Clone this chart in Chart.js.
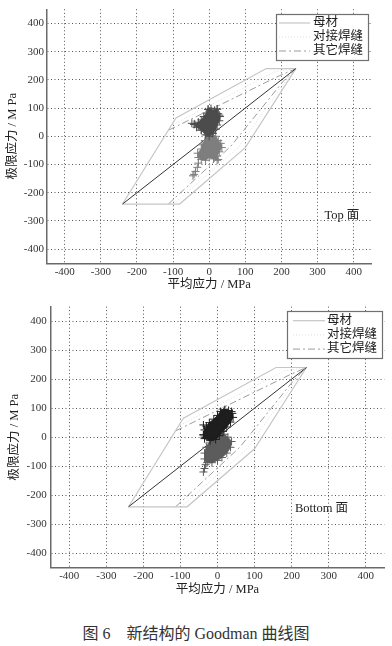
<!DOCTYPE html>
<html>
<head>
<meta charset="utf-8">
<script src="https://cdn.jsdelivr.net/npm/chart.js@4.4.0/dist/chart.umd.min.js"></script>
<style>
  html, body { margin: 0; padding: 0; background: #fff; }
  #page { position: relative; width: 392px; height: 646px; overflow: hidden; }
  .box { position: absolute; left: 0; width: 392px; }
  #top { top: 0; height: 296px; }
  #bottom { top: 296px; height: 314px; }
  #caption {
    position: absolute; top: 620px; left: 0; width: 392px; text-align: center;
    font: 16px "Liberation Serif", "Noto Sans CJK SC", serif; color: #333;
  }
</style>
</head>
<body>
<div id="page">
  <div class="box" id="top"><canvas id="topChart"></canvas></div>
  <div class="box" id="bottom"><canvas id="bottomChart"></canvas></div>
  <div id="caption">图 6　新结构的 Goodman 曲线图</div>
</div>
<script>
// axis ticks (MPa)
const tickValues = [-400, -300, -200, -100, 0, 100, 200, 300, 400];
const axisMin = -450;
const axisMax = 450;

// legend names
const legendLabels = ['母材', '对接焊缝', '其它焊缝'];

// Goodman envelopes, [mean stress, limit stress]
const diagonalLine = [[-240, -240], [240, 240]];
const baseMetalUpper = [[-240, -240], [-92, 65], [158, 240], [240, 240]];
const baseMetalLower = [[-240, -240], [-82, -240], [100, -40], [240, 240]];
const buttWeldUpper = [[-100, 42], [180, 228], [240, 240]];
const buttWeldLower = [[-98, -240], [80, -40], [222, 215], [240, 240]];
const otherWeldUpper = [[-112, 22], [195, 215], [240, 240]];
const otherWeldLower = [[-113, -240], [60, -35], [205, 195], [240, 240]];

// Top face stress points (outline of the + cloud and stray points)
const topMaxCloud = [[-22, 22], [-35, 32], [-42, 42], [-30, 50], [-22, 58], [-15, 70], [-8, 82], [-3, 95],
  [5, 98], [8, 88], [15, 92], [22, 96], [25, 80], [30, 70], [28, 55], [22, 40], [18, 25], [10, 10], [0, 0],
  [-10, 5], [-22, 22]];
const topMaxStray = [[-48, 46], [-40, 44], [-3, 96], [5, 90], [22, 97], [28, 75]];
const topMinCloud = [[-5, 5], [8, 10], [18, 0], [25, -15], [32, -25], [35, -40], [28, -55], [22, -70],
  [25, -82], [12, -80], [0, -75], [-10, -85], [-22, -82], [-30, -75], [-32, -60], [-22, -45], [-20, -30],
  [-12, -15], [-5, 5]];
const topMinStray = [[-30, -95], [-33, -110], [-38, -125], [-42, -135], [-45, -140], [22, -85]];

// Bottom face stress points
const botMaxCloud = [[-38, 8], [-35, 25], [-30, 38], [-22, 50], [-10, 62], [0, 75], [8, 88], [18, 92],
  [30, 92], [40, 82], [42, 68], [35, 52], [25, 35], [15, 20], [5, 5], [-5, -8], [-20, -12], [-35, -5], [-38, 8]];
const botMaxStray = [[-38, 42], [-35, 0], [20, 95], [38, 88]];
const botMinCloud = [[-8, 2], [5, 12], [18, 10], [28, 0], [38, -15], [35, -35], [25, -55], [12, -70],
  [0, -80], [-15, -88], [-28, -88], [-35, -75], [-35, -55], [-30, -35], [-22, -20], [-8, 2]];
const botMinStray = [[-32, -95], [-35, -108], [-38, -120]];

const SERIF = '"Liberation Serif", "Noto Sans CJK SC", serif';

function pts(list) {
  return list.map(p => ({ x: p[0], y: p[1] }));
}

function lineSet(label, list, color, dash, width) {
  return {
    label, data: pts(list), showLine: true, borderColor: color, borderWidth: width,
    borderDash: dash, pointRadius: 0, fill: false, order: 3
  };
}

function cloudSet(list, color) {
  return {
    label: '', data: pts(list), showLine: true, fill: 'shape', backgroundColor: color,
    borderColor: color, borderWidth: 1, pointStyle: 'cross', pointRadius: 4, order: 1
  };
}

function straySet(list, color) {
  return {
    label: '', data: pts(list), showLine: false, borderColor: color, borderWidth: 1,
    pointStyle: 'cross', pointRadius: 4, order: 1
  };
}

function envelopeSets() {
  return [
    lineSet('母材', baseMetalUpper, '#c6c6c6', [], 1.2),
    lineSet('母材', baseMetalLower, '#c6c6c6', [], 1.2),
    lineSet('对接焊缝', buttWeldUpper, '#dedede', [1, 2], 1),
    lineSet('对接焊缝', buttWeldLower, '#dedede', [1, 2], 1),
    lineSet('其它焊缝', otherWeldUpper, '#9c9c9c', [7, 3, 2, 3], 1),
    lineSet('其它焊缝', otherWeldLower, '#9c9c9c', [7, 3, 2, 3], 1),
    { label: '', data: pts(diagonalLine), showLine: true, borderColor: '#333', borderWidth: 1, pointRadius: 0, order: 2 }
  ];
}

// boxed legend + face note
const boxLegend = {
  id: 'boxLegend',
  afterDatasetsDraw(chart, args, o) {
    const ctx = chart.ctx;
    ctx.save();
    ctx.fillStyle = '#fff';
    ctx.fillRect(o.x, o.y, o.w, o.h);
    ctx.strokeStyle = '#707070';
    ctx.lineWidth = 1.2;
    ctx.strokeRect(o.x + 0.5, o.y + 0.5, o.w, o.h);
    ctx.font = '12.5px ' + SERIF;
    ctx.textBaseline = 'middle';
    legendLabels.forEach((name, i) => {
      const d = chart.data.datasets.find(ds => ds.label === name);
      const y = o.y + o.rowTop + i * o.rowGap;
      ctx.strokeStyle = d.borderColor;
      ctx.lineWidth = d.borderWidth;
      ctx.setLineDash(d.borderDash || []);
      ctx.beginPath();
      ctx.moveTo(o.x + o.lineStart, y);
      ctx.lineTo(o.x + o.lineEnd, y);
      ctx.stroke();
      ctx.setLineDash([]);
      ctx.fillStyle = '#222';
      ctx.fillText(name, o.x + o.textStart, y);
    });
    const n = o.note;
    ctx.fillStyle = '#222';
    ctx.fillText(n.text, chart.scales.x.getPixelForValue(n.x), chart.scales.y.getPixelForValue(n.y));
    ctx.restore();
  }
};

function makeChart(id, H, frame, datasets, legendOpts) {
  const tickFont = { family: SERIF, size: 11 };
  const titleFont = { family: SERIF, size: 12.5 };
  const grid = { color: '#555', lineWidth: 1, drawTicks: false };
  const border = { display: true, color: '#6a6a6a', width: 1.5, dash: [1, 2.5] };
  const setTicks = s => { s.ticks = tickValues.map(v => ({ value: v })); };
  return new Chart(document.getElementById(id), {
    type: 'scatter',
    data: { datasets },
    options: {
      responsive: true,
      maintainAspectRatio: false,
      animation: false,
      layout: { padding: { top: frame.top, right: 392 - frame.right, left: 0, bottom: 0 } },
      plugins: { legend: { display: false }, tooltip: { enabled: false }, boxLegend: legendOpts },
      scales: {
        x: {
          type: 'linear', min: axisMin, max: axisMax,
          afterBuildTicks: setTicks,
          afterFit: s => { s.height = H - frame.bottom; },
          grid, border,
          ticks: { font: tickFont, color: '#333', padding: 2, maxRotation: 0, autoSkip: false },
          title: { display: true, text: '平均应力 / MPa', font: titleFont, color: '#222', padding: { top: 0, bottom: frame.xTitlePad } }
        },
        y: {
          type: 'linear', min: axisMin, max: axisMax,
          afterBuildTicks: setTicks,
          afterFit: s => { s.width = frame.left; },
          grid, border,
          ticks: { font: tickFont, color: '#333', padding: frame.yTickPad, autoSkip: false },
          title: { display: true, text: '极限应力 / M Pa', font: titleFont, color: '#222', padding: { top: frame.yTitlePad, bottom: 0 } }
        }
      }
    },
    plugins: [boxLegend]
  });
}

makeChart('topChart', 296,
  { left: 46.7, right: 371.7, top: 8.6, bottom: 263.3, xTitlePad: 3.5, yTitlePad: 5.5, yTickPad: 2.7 },
  [cloudSet(topMaxCloud, '#4c4c4c'), straySet(topMaxStray, '#4c4c4c'),
   cloudSet(topMinCloud, '#7e7e7e'), straySet(topMinStray, '#7e7e7e')].concat(envelopeSets()),
  { x: 276, y: 14, w: 92, h: 46, rowTop: 9, rowGap: 14, lineStart: 3, lineEnd: 34, textStart: 37,
    note: { text: 'Top 面', x: 319, y: -280 } });

makeChart('bottomChart', 314,
  { left: 50.7, right: 384.3, top: 8.4, bottom: 271.7, xTitlePad: 12.5, yTitlePad: 7.5, yTickPad: 4 },
  [cloudSet(botMaxCloud, '#1e1e1e'), straySet(botMaxStray, '#1e1e1e'),
   cloudSet(botMinCloud, '#5c5c5c'), straySet(botMinStray, '#5c5c5c')].concat(envelopeSets()),
  { x: 287, y: 15, w: 95, h: 47, rowTop: 9.7, rowGap: 14.2, lineStart: 6, lineEnd: 38, textStart: 40,
    note: { text: 'Bottom 面', x: 209, y: -246 } });
</script>
</body>
</html>
